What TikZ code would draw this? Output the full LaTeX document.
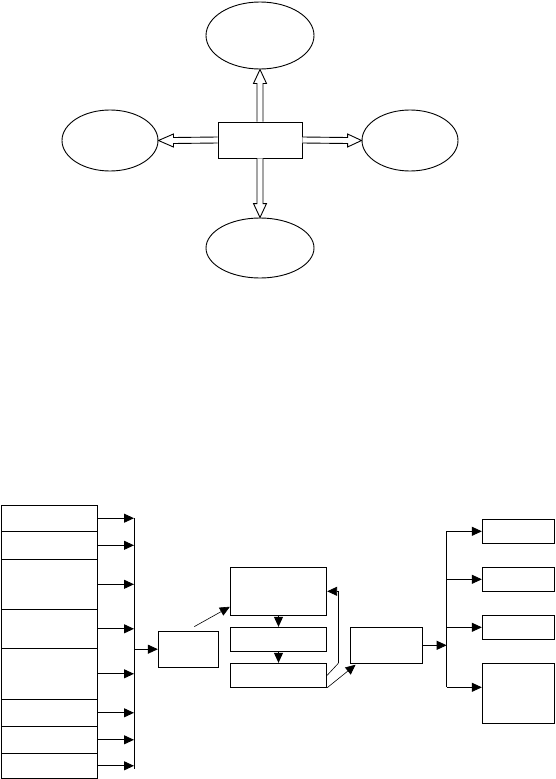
\documentclass[tikz,border=0pt]{standalone}
\usetikzlibrary{shapes.geometric,arrows.meta,calc}
\begin{document}
\begin{tikzpicture}[x=1pt,y=-1pt,
  ln/.style={line width=0.9pt},
  thinln/.style={line width=0.6pt},
  ell/.style={ellipse,draw,ln,inner sep=0pt},
  bx/.style={rectangle,draw,ln,inner sep=0pt},
  arr/.style={ln,-{Triangle[length=10pt,width=9pt]}},
  tarr/.style={thinln,-{Triangle[length=10pt,width=9pt]}},
  hollow/.style={ln,fill=white,line join=miter}]
\useasboundingbox (0,0) rectangle (556,779);
% ---------- top diagram ----------
\node[ell,minimum width=108pt,minimum height=67pt] (et) at (260,35.5) {};
\node[ell,minimum width=96pt,minimum height=61pt] (el) at (110,140.5) {};
\node[ell,minimum width=96pt,minimum height=61pt] (er) at (410,140.5) {};
\node[ell,minimum width=108pt,minimum height=60pt] (eb) at (260,248) {};
\node[bx,minimum width=84pt,minimum height=36pt] (c) at (260,140) {};
% hollow arrows
\draw[hollow] ($(c.north)+(-3,0)$) -- ($(et.south)+(-3,14)$) -- ($(et.south)+(-6.5,14)$) -- (et.south)
  -- ($(et.south)+(6.5,14)$) -- ($(et.south)+(3,14)$) -- ($(c.north)+(3,0)$);
\draw[hollow] ($(c.south)+(-3,0)$) -- ($(eb.north)+(-3,-14)$) -- ($(eb.north)+(-6.5,-14)$) -- (eb.north)
  -- ($(eb.north)+(6.5,-14)$) -- ($(eb.north)+(3,-14)$) -- ($(c.south)+(3,0)$);
\draw[hollow] ($(c.west)+(0,-3)$) -- ($(el.east)+(15,-3)$) -- ($(el.east)+(15,-6.5)$) -- (el.east)
  -- ($(el.east)+(15,6.5)$) -- ($(el.east)+(15,3)$) -- ($(c.west)+(0,3)$);
\draw[hollow] ($(c.east)+(0,-3)$) -- ($(er.west)+(-14,-3)$) -- ($(er.west)+(-14,-6.5)$) -- (er.west)
  -- ($(er.west)+(-14,6.5)$) -- ($(er.west)+(-14,3)$) -- ($(c.east)+(0,3)$);
% ---------- bottom diagram ----------
\node[bx,minimum width=96pt,minimum height=26.3pt] (L1) at (49.7,518.2) {};
\node[bx,minimum width=96pt,minimum height=28pt]   (L2) at (49.7,545.3) {};
\node[bx,minimum width=96pt,minimum height=50pt]   (L3) at (49.7,584.3) {};
\node[bx,minimum width=96pt,minimum height=39pt]   (L4) at (49.7,628.8) {};
\node[bx,minimum width=96pt,minimum height=51pt]   (L5) at (49.7,673.8) {};
\node[bx,minimum width=96pt,minimum height=27pt]   (L6) at (49.7,712.8) {};
\node[bx,minimum width=96pt,minimum height=27pt]   (L7) at (49.7,739.8) {};
\node[bx,minimum width=96pt,minimum height=25pt]   (L8) at (49.7,765.8) {};
\coordinate (bt) at (134,518.2);
\coordinate (bb) at (134,768.5);
\draw[ln] (bt) -- (bb);
\foreach \i in {1,...,8} {\draw[arr] (L\i.east) -- (L\i.east -| bt);}
\node[bx,minimum width=60pt,minimum height=36.3pt] (m) at (188.3,649.2) {};
\draw[arr] (m.west -| bt) -- (m.west);
\node[bx,minimum width=96.4pt,minimum height=48pt] (b3) at (278.5,591.3) {};
\node[bx,minimum width=96.4pt,minimum height=24pt] (b4) at (278.5,639.3) {};
\node[bx,minimum width=96.4pt,minimum height=24pt] (b5) at (278.5,675.3) {};
\node[bx,minimum width=72.3pt,minimum height=36pt] (b6) at (386.2,645.3) {};
\draw[tarr] ($(m.north)+(6,-4)$) -- ($(b3.south west)+(0,-9)$);
\draw[arr] (b3.south) -- (b4.north);
\draw[arr] (b4.south) -- (b5.north);
\coordinate (fb) at (338.3,663.3);
\draw[thinln] (b5.east) -- (fb);
\draw[arr] (fb) -- (fb |- b3.east) -- (b3.east);
\draw[tarr] (b5.south east) -- ($(b6.south west)+(6,1)$);
\node[bx,minimum width=72pt,minimum height=24pt] (r1) at (518.3,531.3) {};
\node[bx,minimum width=72pt,minimum height=24pt] (r2) at (518.3,579.3) {};
\node[bx,minimum width=72pt,minimum height=24pt] (r3) at (518.3,627.3) {};
\node[bx,minimum width=72pt,minimum height=60pt] (r4) at (518.3,693.3) {};
\coordinate (ct) at (446.7,531.3);
\coordinate (cb) at (446.7,687.3);
\draw[arr] (b6.east) -- (b6.east -| ct);
\draw[ln] (ct) -- (cb);
\draw[arr] (ct) -- (r1.west);
\draw[arr] (r2.west -| ct) -- (r2.west);
\draw[arr] (r3.west -| ct) -- (r3.west);
\draw[arr] (cb) -- (cb -| r4.west);
\end{tikzpicture}
\end{document}
